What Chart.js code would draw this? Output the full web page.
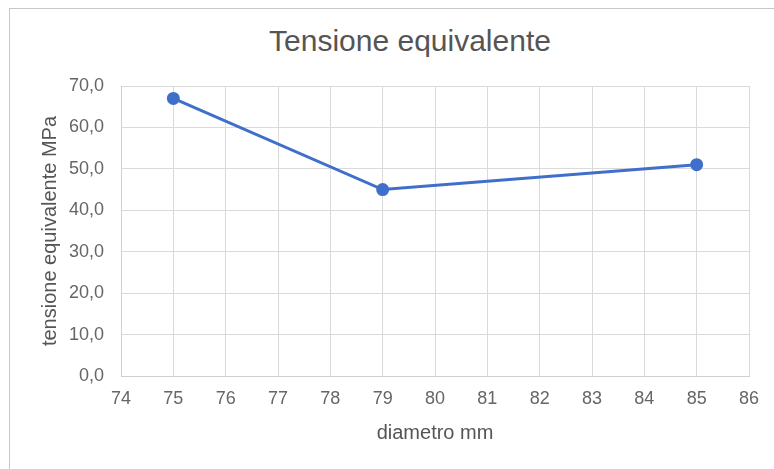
<!DOCTYPE html>
<html>
<head>
<meta charset="utf-8">
<script src="https://cdn.jsdelivr.net/npm/chart.js@4/dist/chart.umd.min.js"></script>
<style>
  html, body { margin: 0; padding: 0; background: #fff; }
  #wrap { position: relative; width: 774px; height: 469px; overflow: hidden; }
  #frame { position: absolute; left: 9px; top: 8px; width: 900px; height: 600px; border-left: 1px solid #c8c8c8; border-top: 1px solid #c8c8c8; }
  #title { position: absolute; left: 0; top: 26px; width: 820px; text-align: center; font: 30px "Liberation Sans", Arial, sans-serif; line-height: 30px; color: #555; }
  canvas { position: absolute; left: 0; top: 0; }
</style>
</head>
<body>
<div id="wrap">
  <div id="frame"></div>
  <div id="title">Tensione equivalente</div>
  <canvas id="c" width="774" height="469"></canvas>
</div>
<script>
const diametri = [75, 79, 85];
const tensioni = [67, 45, 51];
const xTitle = 'diametro mm';
const yTitle = 'tensione equivalente MPa';
const xRange = [74, 86];
const yRange = [0, 70];

const points = diametri.map((d, i) => ({ x: d, y: tensioni[i] }));
const blue = '#3f6fcb';
const gridColor = '#dadada';
const tickColor = '#666';
const font = "'Liberation Sans', Arial, sans-serif";

new Chart(document.getElementById('c'), {
  type: 'scatter',
  data: {
    datasets: [{
      data: points,
      showLine: true,
      borderColor: blue,
      backgroundColor: blue,
      borderWidth: 3,
      pointRadius: 5,
      pointHoverRadius: 5,
      tension: 0
    }]
  },
  options: {
    responsive: false,
    animation: false,
    devicePixelRatio: 1,
    layout: { padding: { left: 34, right: 25, top: 86, bottom: 20 } },
    plugins: { legend: { display: false }, tooltip: { enabled: false }, title: { display: false } },
    scales: {
      x: {
        type: 'linear',
        min: xRange[0], max: xRange[1],
        afterFit: s => { s.height = 73; },
        ticks: { stepSize: 1, padding: 12, color: tickColor, font: { family: font, size: 18 }, callback: v => String(v) },
        grid: { color: gridColor, lineWidth: 1, drawTicks: false },
        border: { color: '#cfcfcf' },
        title: { display: true, text: xTitle, color: '#555', font: { family: font, size: 20 }, padding: { top: 4, bottom: 4 } }
      },
      y: {
        min: yRange[0], max: yRange[1],
        afterFit: s => { s.width = 87; },
        ticks: { stepSize: 10, padding: 17, color: tickColor, font: { family: font, size: 18 }, callback: v => v.toFixed(1).replace('.', ',') },
        grid: { color: gridColor, lineWidth: 1, drawTicks: false },
        border: { color: '#cfcfcf' },
        title: { display: true, text: yTitle, color: '#555', font: { family: font, size: 20 }, padding: { top: 4, bottom: 4 } }
      }
    }
  }
});
</script>
</body>
</html>
